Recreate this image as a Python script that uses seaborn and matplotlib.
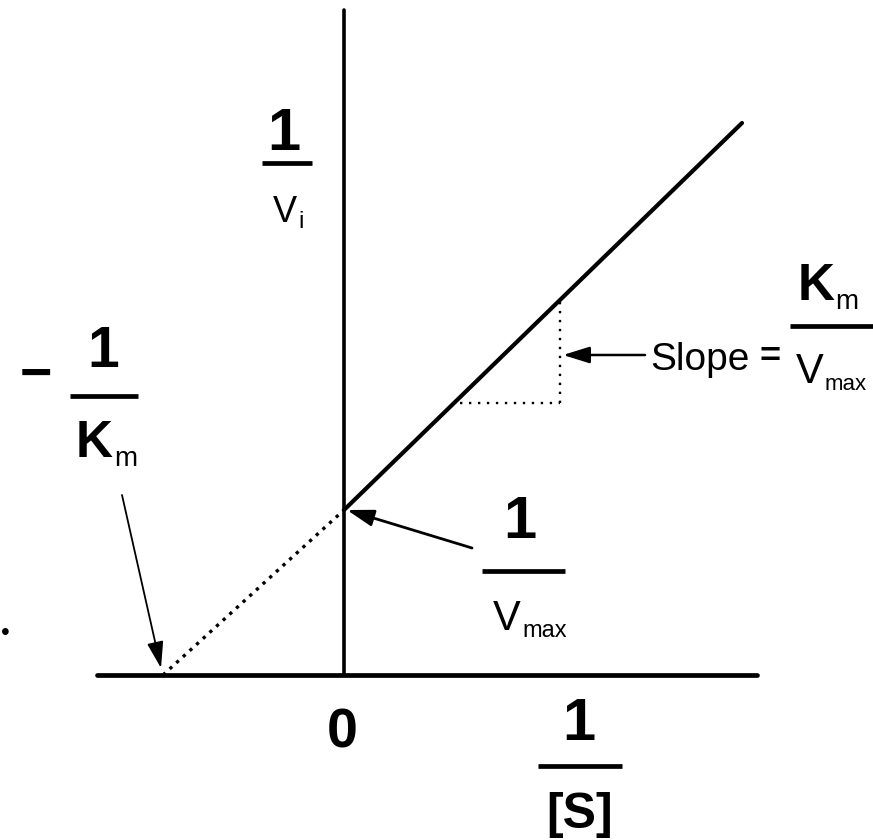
import matplotlib
matplotlib.use("Agg")
import matplotlib.pyplot as plt
import matplotlib.patches as mpatches
import seaborn as sns
import pandas as pd
from matplotlib.lines import Line2D

# ---- data (Lineweaver-Burk schematic, arbitrary units) ----
solid_x = [0.0, 3.98]          # 1/[S]
solid_y = [1.65, 5.52]         # 1/v_i
extrap_x = [-1.81, 0.0]        # extrapolated (dotted) part
extrap_y = [0.0, 1.65]
xaxis_x = [-2.47, 4.13]
xaxis_y = [0.0, 0.0]
yaxis_x = [0.0, 0.0]
yaxis_y = [0.0, 6.65]
slope_h_x = [1.16, 2.16]
slope_h_y = [2.72, 2.72]
slope_v_x = [2.16, 2.16]
slope_v_y = [2.72, 3.77]

sns.set_theme(style="white")
FAM = ["Liberation Sans Narrow", "Liberation Sans", "DejaVu Sans"]
plt.rcParams["font.family"] = FAM

W, H = 873, 840
fig = plt.figure(figsize=(W / 100, H / 100), dpi=100)
fig.patch.set_facecolor("white")
ax = fig.add_axes([0, 0, 1, 1])
ax.set_xlim(-3.44, 5.29)
ax.set_ylim(-1.65, 6.75)
ax.axis("off")

def df(x, y):
    return pd.DataFrame({"x": x, "y": y})

def line(x, y, **kw):
    sns.lineplot(data=df(x, y), x="x", y="y", ax=ax, color="black", sort=False,
                 estimator=None, errorbar=None, **kw)

line(xaxis_x, xaxis_y, lw=3.4)
line(yaxis_x, yaxis_y, lw=2.6)
line(solid_x, solid_y, lw=3.0)
line(extrap_x, extrap_y, lw=2.4, linestyle=(0, (1, 1.7)))
line(slope_h_x, slope_h_y, lw=1.7, linestyle=(0, (1, 2.8)))
line(slope_v_x, slope_v_y, lw=1.7, linestyle=(0, (1, 2.8)))

def P(px, py):
    return px / W, 1 - py / H

def T(px, py, s, size, weight="normal", ha="center", va="baseline"):
    x, y = P(px, py)
    fig.text(x, y, s, fontsize=size, fontweight=weight, ha=ha, va=va, color="black", family=FAM)

def bar(x0, x1, py, lw=3.4):
    a, b = P(x0, py)
    c, d = P(x1, py)
    fig.add_artist(Line2D([a, c], [b, d], transform=fig.transFigure, color="black", lw=lw,
                          solid_capstyle="butt"))

# 1 / v_i
T(284, 150, "1", 43, "bold")
bar(262, 312, 163)
T(273, 222, "V", 26, ha="left")
T(298, 228, "i", 17, ha="left")

# - 1 / K_m
T(36, 377, "\u2212", 40, "bold", va="center")
T(103, 367, "1", 41, "bold")
bar(70, 138, 396)
T(76, 457, "K", 37, "bold", ha="left")
T(114, 466, "m", 20, ha="left")

# 1 / V_max
T(520, 538, "1", 43, "bold")
bar(482, 565, 571)
T(493, 630, "V", 30, ha="left")
T(522, 637, "max", 17, ha="left")

# axis labels
T(342, 747, "0", 40, "bold")
T(579, 740, "1", 43, "bold")
bar(538, 622, 766)
T(580, 828, "[S]", 36, "bold")

# slope label
T(650, 370, "Slope", 28, ha="left")
T(770, 357, "=", 26, "bold", va="center")
T(798, 300, "K", 37, "bold", ha="left")
T(835, 309, "m", 20, ha="left")
bar(790, 873, 326)
T(796, 383, "V", 30, ha="left")
T(825, 390, "max", 16, ha="left")

# stray bullet
T(5, 633, "\u2022", 18, va="center")

# arrows
def arrow(p_from, p_to, lw=1.4, hl=0.9, hw=0.28, ms=18):
    fig.add_artist(mpatches.FancyArrowPatch(
        P(*p_from), P(*p_to), transform=fig.transFigure,
        arrowstyle=f"-|>,head_length={hl},head_width={hw}", mutation_scale=ms,
        color="black", lw=lw, shrinkA=0, shrinkB=0))

arrow((122, 495), (161, 668), lw=1.3)
arrow((472, 548), (347, 510), lw=2.0)
arrow((645, 355), (563, 355), lw=1.8)

fig.savefig("out.png", dpi=100, facecolor="white")
